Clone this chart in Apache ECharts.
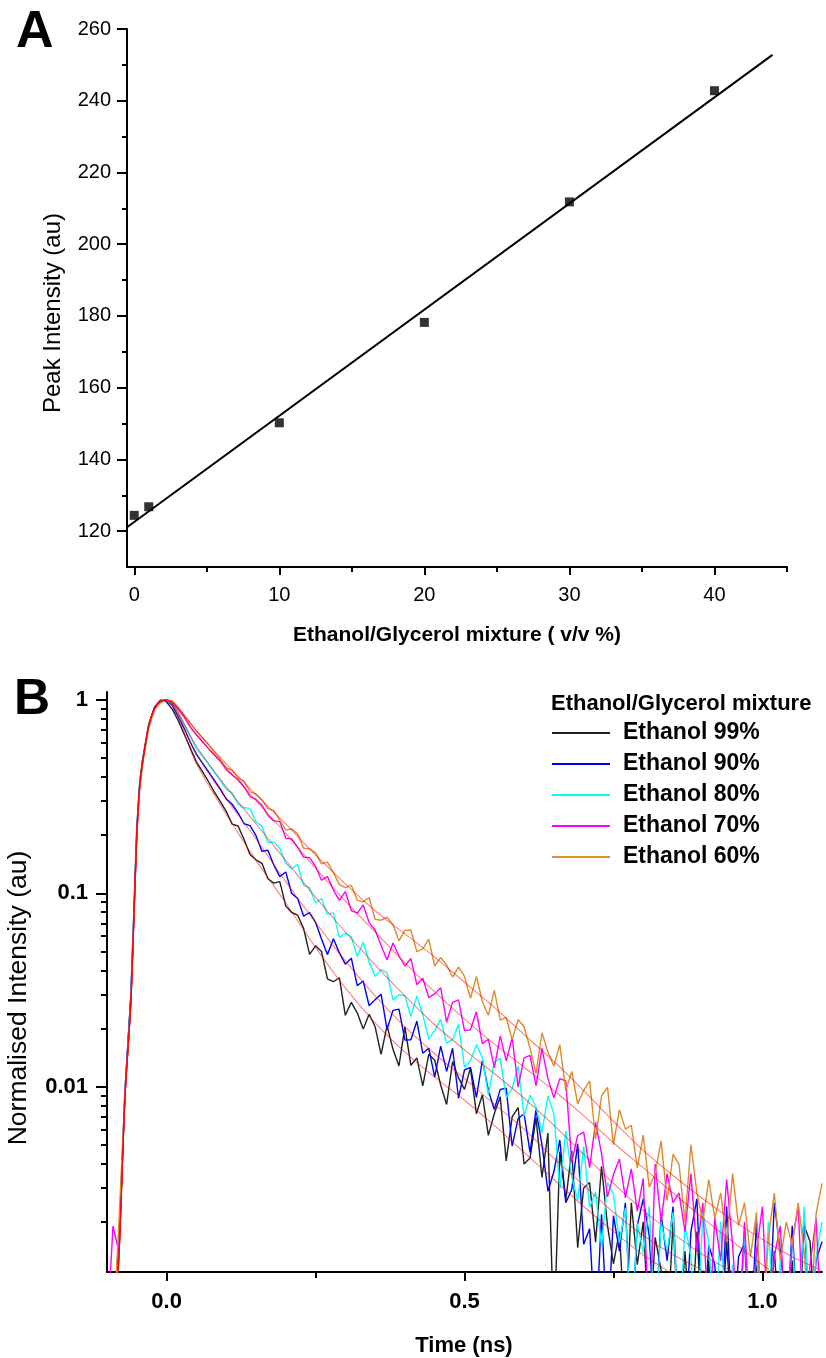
<!DOCTYPE html>
<html>
<head>
<meta charset="utf-8">
<script src="https://cdn.jsdelivr.net/npm/echarts@6/dist/echarts.min.js"></script>
<style>
  html, body { margin: 0; padding: 0; background: #fff; }
  #chart { width: 826px; height: 1358px; }
</style>
</head>
<body>
<div id="chart"></div>
<script>
// ---------- Panel A: peak intensity vs ethanol/glycerol mixture ----------
const mixPercent = [0, 1, 10, 20, 30, 40];
const peakIntensity = [124.4, 126.8, 150.2, 178.2, 211.8, 242.8];
// straight-line fit drawn across the panel
const fitMix = [-0.5, 44];
const fitPeak = [121.1, 252.8];

const aYMajorTicks = [120, 140, 160, 180, 200, 220, 240, 260];
const aYMinorTicks = [130, 150, 170, 190, 210, 230, 250];
const aXMajorTicks = [0, 10, 20, 30, 40];
const aXMinorTicks = [5, 15, 25, 35, 45];

// ---------- Panel B: normalised decay traces (time in ns) ----------
const timeNs = [
  -0.1, -0.09, -0.08, -0.07, -0.06, -0.055, -0.05, -0.045, -0.04, -0.03, -0.02, -0.01,
  0, 0.01, 0.02, 0.03, 0.04, 0.05, 0.06, 0.07, 0.08, 0.09,
  0.1, 0.11, 0.12, 0.13, 0.14, 0.15, 0.16, 0.17, 0.18, 0.19,
  0.2, 0.21, 0.22, 0.23, 0.24, 0.25, 0.26, 0.27, 0.28, 0.29,
  0.3, 0.31, 0.32, 0.33, 0.34, 0.35, 0.36, 0.37, 0.38, 0.39,
  0.4, 0.41, 0.42, 0.43, 0.44, 0.45, 0.46, 0.47, 0.48, 0.49,
  0.5, 0.51, 0.52, 0.53, 0.54, 0.55, 0.56, 0.57, 0.58, 0.59,
  0.6, 0.61, 0.62, 0.63, 0.64, 0.65, 0.66, 0.67, 0.68, 0.69,
  0.7, 0.71, 0.72, 0.73, 0.74, 0.75, 0.76, 0.77, 0.78, 0.79,
  0.8, 0.81, 0.82, 0.83, 0.84, 0.85, 0.86, 0.87, 0.88, 0.89,
  0.9, 0.91, 0.92, 0.93, 0.94, 0.95, 0.96, 0.97, 0.98, 0.99,
  1.0, 1.01, 1.02, 1.03, 1.04, 1.05, 1.06, 1.07, 1.08, 1.09, 1.1
];

// 0.0005 marks channels that fall below the bottom of the axis
const ethanol99 = [
  0.0005, 0.0005, 0.0014, 0.009, 0.03, 0.08, 0.22, 0.38, 0.50, 0.75, 0.92, 1.0,
  0.977, 0.891, 0.776, 0.661, 0.562, 0.479, 0.427, 0.380, 0.335, 0.299,
  0.266, 0.228, 0.223, 0.190, 0.159, 0.149, 0.143, 0.119, 0.113, 0.115,
  0.0861, 0.0796, 0.0771, 0.0658, 0.0483, 0.0535, 0.0500, 0.0361, 0.0349, 0.0366,
  0.0234, 0.0273, 0.0241, 0.0199, 0.0237, 0.0204, 0.0147, 0.0207, 0.0156, 0.0128,
  0.0204, 0.0129, 0.0141, 0.0101, 0.0147, 0.0137, 0.0102, 0.00809, 0.0135, 0.0111,
  0.00968, 0.0125, 0.00724, 0.00908, 0.00560, 0.00724, 0.00887, 0.00413, 0.00698, 0.00780,
  0.00398, 0.00427, 0.00692, 0.00339, 0.00575, 0.0005, 0.00461, 0.00259, 0.00466, 0.00147,
  0.00299, 0.00319, 0.00157, 0.00387, 0.00191, 0.00121, 0.00178, 0.0005, 0.00251, 0.00120,
  0.00200, 0.0005, 0.00166, 0.00112, 0.0005, 0.00200, 0.0005, 0.00141, 0.0005, 0.00178,
  0.0005, 0.00126, 0.0005, 0.0005, 0.00158, 0.0005, 0.0005, 0.00178, 0.0005, 0.00120,
  0.0005, 0.0005, 0.00141, 0.0005, 0.0005, 0.00126, 0.0005, 0.00191, 0.00158, 0.0005, 0.0005
];
const ethanol90 = [
  0.0005, 0.0006, 0.0015, 0.0095, 0.029, 0.075, 0.21, 0.37, 0.49, 0.74, 0.92, 0.99,
  1.0, 0.933, 0.813, 0.708, 0.603, 0.525, 0.473, 0.427, 0.385, 0.347,
  0.308, 0.289, 0.261, 0.229, 0.224, 0.199, 0.165, 0.167, 0.140, 0.122,
  0.129, 0.0998, 0.0940, 0.0762, 0.0796, 0.0708, 0.0581, 0.0483, 0.0582, 0.0492,
  0.0430, 0.0462, 0.0333, 0.0352, 0.0262, 0.0282, 0.0301, 0.0198, 0.0248, 0.0252,
  0.0174, 0.0175, 0.0218, 0.0149, 0.0158, 0.0112, 0.0162, 0.0120, 0.0158, 0.00871,
  0.0122, 0.0126, 0.00879, 0.0137, 0.00959, 0.00762, 0.00968, 0.00982, 0.00492, 0.00685,
  0.00724, 0.00457, 0.00759, 0.00501, 0.00288, 0.00363, 0.00530, 0.00251, 0.00294, 0.00506,
  0.00153, 0.00184, 0.0005, 0.00219, 0.0005, 0.00215, 0.00141, 0.00251, 0.0005, 0.00191,
  0.00263, 0.00170, 0.0005, 0.00219, 0.00126, 0.00240, 0.0005, 0.0005, 0.00178, 0.00263,
  0.0005, 0.00151, 0.0012, 0.0005, 0.00240, 0.0005, 0.00132, 0.00155, 0.0005, 0.00200,
  0.0005, 0.0005, 0.00251, 0.00141, 0.0005, 0.00191, 0.0005, 0.00219, 0.0005, 0.00126, 0.00158
];
const ethanol80 = [
  0.0005, 0.0005, 0.0013, 0.009, 0.028, 0.075, 0.21, 0.37, 0.49, 0.74, 0.91, 0.99,
  1.0, 0.955, 0.851, 0.741, 0.646, 0.562, 0.513, 0.468, 0.422, 0.385,
  0.346, 0.331, 0.290, 0.277, 0.275, 0.234, 0.223, 0.183, 0.184, 0.171,
  0.143, 0.134, 0.141, 0.110, 0.107, 0.0891, 0.0940, 0.0778, 0.0793, 0.0592,
  0.0622, 0.0597, 0.0472, 0.0558, 0.0442, 0.0372, 0.0403, 0.0389, 0.0281, 0.0299,
  0.0295, 0.0231, 0.0294, 0.0236, 0.0176, 0.0195, 0.0223, 0.0168, 0.0175, 0.0210,
  0.0126, 0.0136, 0.0165, 0.0141, 0.00904, 0.0134, 0.0140, 0.00875, 0.00977, 0.0128,
  0.00705, 0.00904, 0.00787, 0.00581, 0.00895, 0.00724, 0.00296, 0.00592, 0.00341, 0.00258,
  0.00492, 0.00238, 0.00285, 0.00149, 0.00319, 0.00278, 0.00156, 0.00236, 0.0005, 0.00196,
  0.00139, 0.00240, 0.0005, 0.00200, 0.00141, 0.00224, 0.0005, 0.00191, 0.00132, 0.0005,
  0.00219, 0.00158, 0.0005, 0.00200, 0.0005, 0.00120, 0.0005, 0.00178, 0.0005, 0.00141,
  0.0005, 0.00200, 0.0005, 0.00126, 0.0005, 0.00166, 0.0005, 0.00240, 0.0005, 0.00132, 0.00200
];
const ethanol70 = [
  0.0005, 0.0019, 0.0014, 0.009, 0.027, 0.072, 0.20, 0.36, 0.48, 0.73, 0.90, 0.98,
  1.0, 0.977, 0.891, 0.813, 0.724, 0.661, 0.610, 0.562, 0.519, 0.484,
  0.436, 0.409, 0.389, 0.356, 0.316, 0.306, 0.286, 0.253, 0.237, 0.235,
  0.193, 0.191, 0.173, 0.154, 0.153, 0.138, 0.117, 0.122, 0.104, 0.0920,
  0.102, 0.0815, 0.0789, 0.0871, 0.0706, 0.0646, 0.0537, 0.0453, 0.0553, 0.0474,
  0.0420, 0.0460, 0.0337, 0.0364, 0.0289, 0.0302, 0.0325, 0.0216, 0.0273, 0.0281,
  0.0195, 0.0197, 0.0244, 0.0167, 0.0176, 0.0125, 0.0183, 0.0136, 0.0179, 0.00995,
  0.0141, 0.0145, 0.0101, 0.0158, 0.0110, 0.00875, 0.0110, 0.0107, 0.00407, 0.00559,
  0.00582, 0.00381, 0.00656, 0.00450, 0.00269, 0.00351, 0.00422, 0.00266, 0.00376, 0.00227,
  0.00335, 0.0005, 0.00398, 0.00200, 0.00355, 0.00251, 0.00282, 0.00178, 0.00355, 0.00141,
  0.00251, 0.0005, 0.00209, 0.00126, 0.00331, 0.00151, 0.0005, 0.00200, 0.0005, 0.00141,
  0.00240, 0.0005, 0.00132, 0.00191, 0.0005, 0.00158, 0.00240, 0.0005, 0.00120, 0.00209, 0.0005
];
const ethanol60 = [
  0.0005, 0.0005, 0.0020, 0.009, 0.026, 0.07, 0.20, 0.35, 0.47, 0.72, 0.89, 0.97,
  1.0, 0.989, 0.912, 0.832, 0.759, 0.692, 0.638, 0.589, 0.537, 0.495,
  0.445, 0.434, 0.394, 0.381, 0.335, 0.326, 0.305, 0.274, 0.268, 0.239,
  0.213, 0.215, 0.203, 0.171, 0.170, 0.162, 0.142, 0.145, 0.128, 0.111,
  0.107, 0.110, 0.0920, 0.0904, 0.0951, 0.0733, 0.0726, 0.0753, 0.0689, 0.0568,
  0.0643, 0.0646, 0.0499, 0.0516, 0.0579, 0.0421, 0.0466, 0.0425, 0.0369, 0.0415,
  0.0372, 0.0286, 0.0372, 0.0275, 0.0234, 0.0316, 0.0221, 0.0228, 0.0175, 0.0222,
  0.0204, 0.0158, 0.0117, 0.0190, 0.0151, 0.0128, 0.0165, 0.00955, 0.0120, 0.00813,
  0.00955, 0.0107, 0.00535, 0.00895, 0.00991, 0.00501, 0.00759, 0.00603, 0.00631, 0.00380,
  0.00562, 0.00302, 0.00355, 0.00525, 0.00257, 0.00447, 0.00398, 0.00200, 0.00501, 0.00282,
  0.00200, 0.00331, 0.00209, 0.00282, 0.00158, 0.00355, 0.00191, 0.00251, 0.00132, 0.00224,
  0.0005, 0.00166, 0.00282, 0.00126, 0.00200, 0.00151, 0.00251, 0.00141, 0.0005, 0.00219, 0.00316
];

// fitted decay curves
const fitTime = [
  -0.1, -0.09, -0.08, -0.07, -0.06, -0.055, -0.05, -0.045, -0.04, -0.03, -0.02, -0.01,
  0, 0.05, 0.1, 0.15, 0.2, 0.25, 0.3, 0.35, 0.4, 0.45, 0.5, 0.55,
  0.6, 0.65, 0.7, 0.75, 0.8, 0.85, 0.9, 0.95, 1.0, 1.05, 1.1
];
const fit99 = [
  0.0004, 0.0005, 0.0013, 0.0085, 0.027, 0.072, 0.20, 0.36, 0.48, 0.73, 0.91, 0.985,
  1.0, 0.468, 0.257, 0.148, 0.0891, 0.0525, 0.0324, 0.0214, 0.0151, 0.0112, 0.00851, 0.00631,
  0.00457, 0.00331, 0.00240, 0.00178, 0.00135, 0.00107, 0.000871, 0.000708, 0.000575, 0.000468, 0.000380
];
const fit90 = [
  0.0004, 0.0005, 0.0013, 0.0085, 0.027, 0.072, 0.20, 0.36, 0.48, 0.73, 0.91, 0.985,
  1.0, 0.525, 0.309, 0.191, 0.115, 0.0708, 0.0447, 0.0295, 0.0204, 0.0148, 0.0110, 0.00813,
  0.00603, 0.00427, 0.00309, 0.00224, 0.00170, 0.00135, 0.00112, 0.000933, 0.000794, 0.000676, 0.000575
];
const fit80 = [
  0.0004, 0.0005, 0.0013, 0.0085, 0.027, 0.072, 0.20, 0.36, 0.48, 0.73, 0.91, 0.985,
  1.0, 0.575, 0.355, 0.229, 0.148, 0.0955, 0.0631, 0.0427, 0.0295, 0.0209, 0.0155, 0.0117,
  0.00871, 0.00631, 0.00447, 0.00316, 0.00229, 0.00174, 0.00135, 0.00110, 0.000891, 0.000724, 0.000589
];
const fit70 = [
  0.0004, 0.0005, 0.0013, 0.0085, 0.027, 0.072, 0.20, 0.36, 0.48, 0.73, 0.91, 0.985,
  1.0, 0.661, 0.447, 0.302, 0.204, 0.135, 0.0912, 0.0631, 0.0437, 0.0309, 0.0224, 0.0166,
  0.0126, 0.00955, 0.00708, 0.00513, 0.00380, 0.00282, 0.00209, 0.00158, 0.00120, 0.000933, 0.000759
];
const fit60 = [
  0.0004, 0.0005, 0.0013, 0.0085, 0.027, 0.072, 0.20, 0.36, 0.48, 0.73, 0.91, 0.985,
  1.0, 0.692, 0.468, 0.324, 0.229, 0.158, 0.112, 0.0813, 0.0617, 0.0468, 0.0347, 0.0257,
  0.0186, 0.0135, 0.00955, 0.00661, 0.00468, 0.00347, 0.00263, 0.00204, 0.00162, 0.00132, 0.00112
];

const traceNames = ['Ethanol 99%', 'Ethanol 90%', 'Ethanol 80%', 'Ethanol 70%', 'Ethanol 60%'];
const traceValues = [ethanol99, ethanol90, ethanol80, ethanol70, ethanol60];
const fitValues = [fit99, fit90, fit80, fit70, fit60];
const traceColors = ['#222222', '#0000ff', '#00ffff', '#ff00ff', '#e08a2c'];

const bXMajorTicks = [0, 0.5, 1.0];
const bXMinorTicks = [0.25, 0.75];
const bYMajorTicks = [0.01, 0.1, 1];
const bYMinorTicks = [
  0.002, 0.003, 0.004, 0.005, 0.006, 0.007, 0.008, 0.009,
  0.02, 0.03, 0.04, 0.05, 0.06, 0.07, 0.08, 0.09,
  0.2, 0.3, 0.4, 0.5, 0.6, 0.7, 0.8, 0.9
];

// ---------- helpers ----------
const FONT = '"Liberation Sans", Arial, sans-serif';
const pairs = (xs, ys) => xs.map((x, i) => [x, ys[i]]);
const axisStroke = { color: '#000', width: 2 };

function majorAxis(opts) {
  return Object.assign({
    type: 'value',
    splitLine: { show: false },
    axisLine: { show: true, onZero: false, lineStyle: axisStroke },
    axisTick: { show: true, inside: false, length: opts.tickLen, customValues: opts.ticks, lineStyle: axisStroke },
    axisLabel: {
      show: true, customValues: opts.ticks, margin: opts.margin,
      color: '#000', fontFamily: FONT, fontSize: opts.fontSize, fontWeight: opts.fontWeight,
      formatter: opts.formatter
    }
  }, opts.base);
}
function minorAxis(opts) {
  return Object.assign({
    type: 'value',
    splitLine: { show: false },
    axisLine: { show: false, onZero: false },
    axisTick: { show: true, inside: false, length: opts.tickLen, customValues: opts.ticks, lineStyle: axisStroke },
    axisLabel: { show: false }
  }, opts.base);
}

const chart = echarts.init(document.getElementById('chart'), null, { renderer: 'canvas' });

const series = [
  {
    type: 'line', xAxisIndex: 0, yAxisIndex: 0, silent: true,
    data: pairs(fitMix, fitPeak), symbol: 'none',
    lineStyle: { color: '#000', width: 2 }, z: 3
  },
  {
    type: 'scatter', xAxisIndex: 0, yAxisIndex: 0,
    data: pairs(mixPercent, peakIntensity),
    symbol: 'rect', symbolSize: 9, itemStyle: { color: '#000' }, z: 4
  }
];
traceNames.forEach((name, i) => {
  series.push({
    name: name, type: 'line', xAxisIndex: 2, yAxisIndex: 2,
    data: pairs(timeNs, traceValues[i]), symbol: 'none', clip: true,
    color: traceColors[i],
    lineStyle: { color: traceColors[i], width: 1.4 }, z: 2 + i
  });
});
fitValues.forEach((vals, i) => {
  series.push({
    name: 'fit ' + traceNames[i], type: 'line', xAxisIndex: 2, yAxisIndex: 2,
    data: pairs(fitTime, vals), symbol: 'none', clip: true, smooth: 0.3, silent: true,
    lineStyle: { color: 'rgba(255,0,0,0.5)', width: 1.1 }, z: 10
  });
});

const option = {
  animation: false,
  backgroundColor: '#ffffff',
  grid: [
    { left: 127, top: 29, width: 660, height: 538 },
    { left: 107, top: 692, width: 715, height: 580 }
  ],
  xAxis: [
    majorAxis({ base: { gridIndex: 0, position: 'bottom', min: -0.5, max: 45 }, ticks: aXMajorTicks, tickLen: 8, margin: 18, fontSize: 20, fontWeight: 'normal' }),
    minorAxis({ base: { gridIndex: 0, position: 'bottom', min: -0.5, max: 45 }, ticks: aXMinorTicks, tickLen: 5 }),
    majorAxis({ base: { gridIndex: 1, position: 'bottom', min: -0.1, max: 1.1 }, ticks: bXMajorTicks, tickLen: 9, margin: 19, fontSize: 22, fontWeight: 'bold',
      formatter: v => Number(v).toFixed(1) }),
    minorAxis({ base: { gridIndex: 1, position: 'bottom', min: -0.1, max: 1.1 }, ticks: bXMinorTicks, tickLen: 6 })
  ],
  yAxis: [
    majorAxis({ base: { gridIndex: 0, position: 'left', min: 110, max: 260 }, ticks: aYMajorTicks, tickLen: 10, margin: 16, fontSize: 20, fontWeight: 'normal' }),
    minorAxis({ base: { gridIndex: 0, position: 'left', min: 110, max: 260 }, ticks: aYMinorTicks, tickLen: 5 }),
    majorAxis({ base: { gridIndex: 1, position: 'left', type: 'log', logBase: 10, min: 0.0011, max: 1.1 }, ticks: bYMajorTicks, tickLen: 11, margin: 19, fontSize: 22, fontWeight: 'bold',
      formatter: v => String(v) }),
    minorAxis({ base: { gridIndex: 1, position: 'left', type: 'log', logBase: 10, min: 0.0011, max: 1.1 }, ticks: bYMinorTicks, tickLen: 6 })
  ],
  legend: {
    data: traceNames,
    orient: 'vertical',
    left: 552, top: 721,
    padding: 0,
    itemWidth: 58, itemHeight: 2, itemGap: 7,
    icon: 'rect',
    selectedMode: false,
    textStyle: { color: '#000', fontFamily: FONT, fontSize: 23, fontWeight: 'bold', lineHeight: 24, padding: [0, 0, 0, 8] }
  },
  graphic: [
    { type: 'text', x: 16, y: 33, style: { text: 'A', fill: '#000', font: 'bold 52px ' + FONT, align: 'left', verticalAlign: 'middle' } },
    { type: 'text', x: 14, y: 700, style: { text: 'B', fill: '#000', font: 'bold 50px ' + FONT, align: 'left', verticalAlign: 'middle' } },
    { type: 'text', x: 53, y: 313, rotation: Math.PI / 2,
      style: { text: 'Peak Intensity (au)', fill: '#000', font: '24px ' + FONT, align: 'center', verticalAlign: 'middle' } },
    { type: 'text', x: 457, y: 635,
      style: { text: 'Ethanol/Glycerol mixture ( v/v %)', fill: '#000', font: 'bold 21px ' + FONT, align: 'center', verticalAlign: 'middle' } },
    { type: 'text', x: 19, y: 998, rotation: Math.PI / 2,
      style: { text: 'Normalised Intensity (au)', fill: '#000', font: '26.5px ' + FONT, align: 'center', verticalAlign: 'middle' } },
    { type: 'text', x: 464, y: 1346,
      style: { text: 'Time (ns)', fill: '#000', font: 'bold 22px ' + FONT, align: 'center', verticalAlign: 'middle' } },
    { type: 'text', x: 551, y: 704,
      style: { text: 'Ethanol/Glycerol mixture', fill: '#000', font: 'bold 22px ' + FONT, align: 'left', verticalAlign: 'middle' } }
  ],
  series: series
};

chart.setOption(option);
</script>
</body>
</html>
